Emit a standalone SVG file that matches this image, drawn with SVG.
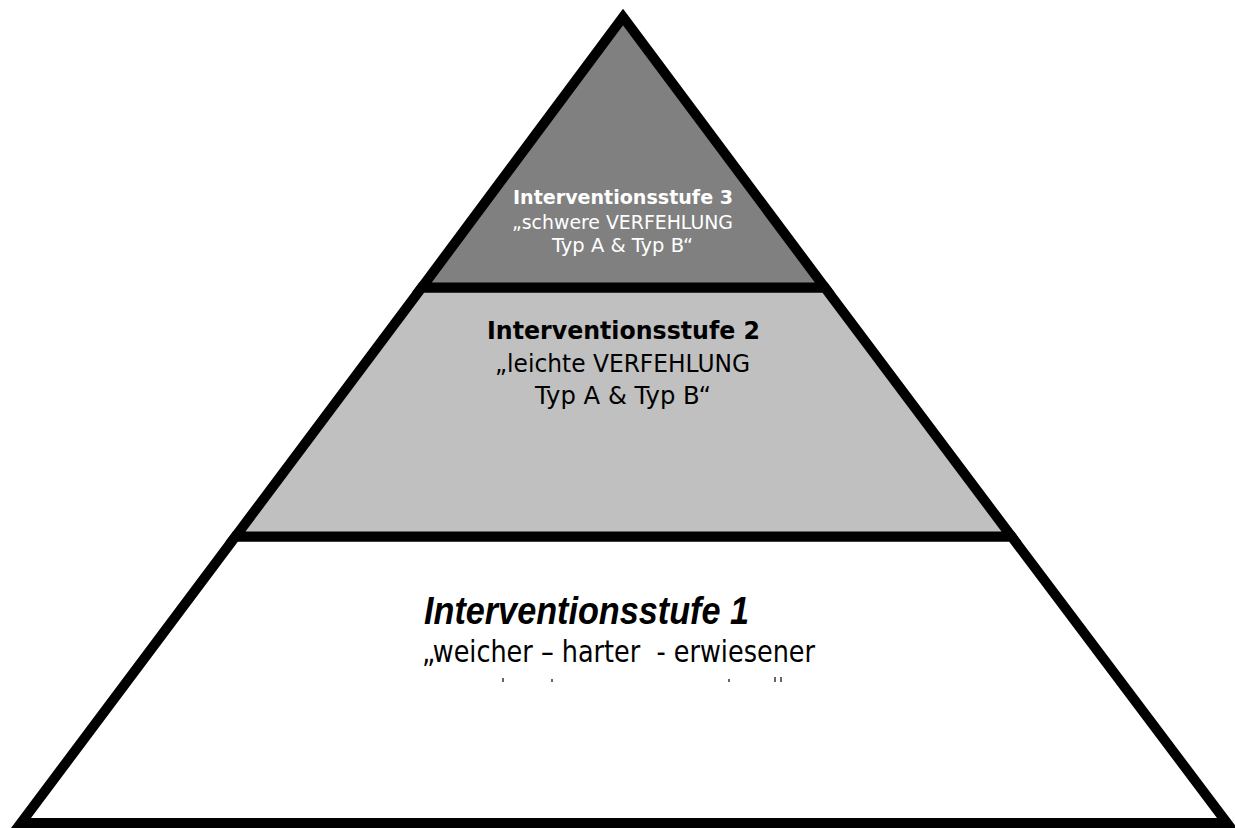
<svg xmlns="http://www.w3.org/2000/svg" width="1235" height="828" viewBox="0 0 1235 828">
<style>
.lvl{stroke:#000;stroke-width:10;stroke-linejoin:miter;stroke-miterlimit:10}
.t3{font-family:"DejaVu Sans",Verdana,sans-serif;fill:#fff;text-anchor:middle}
.t2{font-family:"DejaVu Sans",Verdana,sans-serif;fill:#000;text-anchor:middle}
.t1b{font-family:"Liberation Sans",Arial,sans-serif;font-weight:bold;font-style:italic;fill:#000}
.t1{font-family:"DejaVu Sans",Verdana,sans-serif;fill:#000}
.b{font-weight:bold}
.frag{fill:#666}
</style>
<rect x="0" y="0" width="1235" height="828" fill="#fff"/>
<g id="level1">
<polygon class="lvl" points="235.5,536.5 1011.5,536.5 1227,823 21,823" fill="#fff"/>
<text class="t1b" x="424" y="624" font-size="38" textLength="325" lengthAdjust="spacingAndGlyphs">Interventionsstufe 1</text>
<text class="t1" x="422" y="662" font-size="31" textLength="393" lengthAdjust="spacingAndGlyphs" xml:space="preserve">„weicher – harter  - erwiesener</text>
<rect class="frag" x="502" y="678" width="2" height="4"/>
<rect class="frag" x="551" y="679" width="2" height="3"/>
<rect class="frag" x="728" y="679" width="2" height="3"/>
<rect class="frag" x="774" y="677" width="2" height="5"/>
<rect class="frag" x="780" y="677" width="2" height="5"/>
</g>
<g id="level2">
<polygon class="lvl" points="421.8,287.5 824.8,287.5 1011.5,536.5 235.5,536.5" fill="#c0c0c0"/>
<text class="t2 b" x="623.5" y="339" font-size="25" textLength="273" lengthAdjust="spacingAndGlyphs">Interventionsstufe 2</text>
<text class="t2" x="622.5" y="371.5" font-size="25" textLength="255" lengthAdjust="spacingAndGlyphs">„leichte VERFEHLUNG</text>
<text class="t2" x="623" y="404" font-size="25" textLength="176" lengthAdjust="spacingAndGlyphs">Typ A &amp; Typ B“</text>
</g>
<g id="level3">
<polygon class="lvl" points="623,17 824.8,287.5 421.8,287.5" fill="#808080"/>
<text class="t3 b" x="623" y="204" font-size="19.5" textLength="220" lengthAdjust="spacingAndGlyphs">Interventionsstufe 3</text>
<text class="t3" x="622.5" y="229" font-size="19.5" textLength="221" lengthAdjust="spacingAndGlyphs">„schwere VERFEHLUNG</text>
<text class="t3" x="622.5" y="252" font-size="19.5" textLength="141" lengthAdjust="spacingAndGlyphs">Typ A &amp; Typ B“</text>
</g>
<g id="connectors"></g>
</svg>
